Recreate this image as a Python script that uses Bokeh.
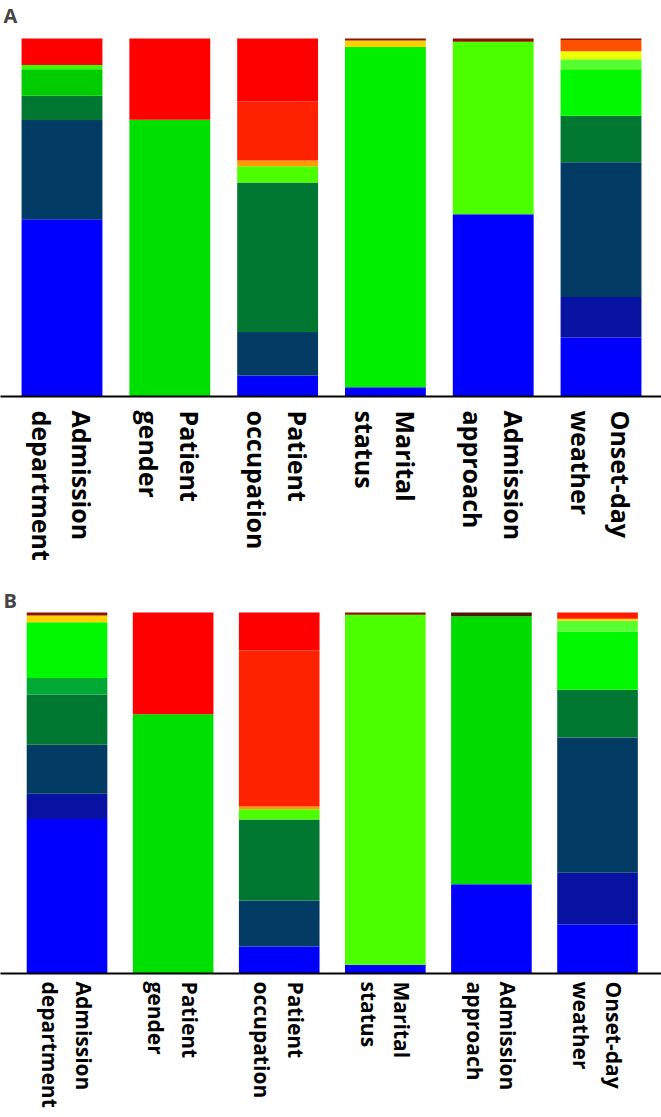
import math
from bokeh.plotting import figure
from bokeh.layouts import column
from bokeh.models import ColumnDataSource, FixedTicker, Range1d, Label
from bokeh.embed import file_html
from bokeh.resources import INLINE

categories = ["Admission\ndepartment", "Patient\ngender", "Patient\noccupation",
              "Marital\nstatus", "Admission\napproach", "Onset-day\nweather"]

# Panel A: share (%) of each level, stacked bottom -> top
a_department = [49.5, 27.7, 6.8, 7.4, 1.2, 7.4]
a_gender = [77.3, 22.7]
a_occupation = [5.9, 12.1, 41.8, 4.5, 1.6, 16.5, 17.6]
a_marital = [2.6, 95.0, 1.8, 0.6]
a_approach = [50.9, 48.2, 0.9]
a_weather = [16.5, 11.3, 37.6, 13.0, 12.8, 3.0, 2.2, 3.2, 0.4]

# Panel B: share (%) of each level, stacked bottom -> top
b_department = [42.8, 7.0, 13.6, 13.9, 4.6, 15.4, 1.9, 0.8]
b_gender = [71.8, 28.2]
b_occupation = [7.5, 12.7, 22.5, 2.8, 0.8, 43.2, 10.5]
b_marital = [2.4, 97.0, 0.6]
b_approach = [24.7, 74.3, 1.0]
b_weather = [13.6, 14.3, 37.5, 13.2, 16.1, 3.0, 0.6, 1.7]

# colours (styles)
BLUE, DBLUE, NAVY, DGREEN = "#0000ff", "#0812a0", "#023c64", "#007832"
RED, REDOR, ORRED, DRED = "#ff0000", "#ff2200", "#ff5000", "#8a1400"
LIME, ORANGE, YELLOW = "#4cff00", "#ff9a00", "#ffd000"

a_colors = [
    [BLUE, NAVY, DGREEN, "#00cc00", "#33ff00", RED],
    ["#00e000", RED],
    [BLUE, NAVY, DGREEN, LIME, ORANGE, REDOR, RED],
    [BLUE, "#00f000", YELLOW, DRED],
    [BLUE, LIME, DRED],
    [BLUE, DBLUE, NAVY, DGREEN, "#00f800", "#55ff30", "#eeff00", ORRED, DRED],
]
b_colors = [
    [BLUE, DBLUE, NAVY, DGREEN, "#00a834", "#00f800", YELLOW, DRED],
    ["#00e000", RED],
    [BLUE, NAVY, DGREEN, LIME, ORANGE, REDOR, RED],
    [BLUE, LIME, DRED],
    [BLUE, "#00dc00", "#4a1a00"],
    [BLUE, DBLUE, NAVY, DGREEN, "#00f800", "#55ff30", YELLOW, "#ff1a00"],
]


def panel(letter, series, colors, x0, x1, ytop, height, bottom_border, bar_w,
          font_px, standoff):
    xs, bots, tops, cols = [], [], [], []
    for i, (vals, cs) in enumerate(zip(series, colors)):
        acc = 0.0
        for v, c in zip(vals, cs):
            xs.append(i)
            bots.append(acc)
            acc += v
            tops.append(acc)
            cols.append(c)
    src = ColumnDataSource(dict(x=xs, bottom=bots, top=tops, color=cols))
    p = figure(width=661, height=height, x_range=Range1d(x0, x1), y_range=Range1d(0, ytop),
               output_backend="svg", toolbar_location=None,
               min_border_left=0, min_border_right=0, min_border_top=0,
               min_border_bottom=bottom_border)
    p.vbar(x="x", bottom="bottom", top="top", width=bar_w, fill_color="color",
           line_color=None, source=src)
    p.yaxis.visible = False
    p.grid.visible = False
    p.outline_line_color = None
    p.background_fill_color = "white"
    ax = p.xaxis[0]
    ax.ticker = FixedTicker(ticks=list(range(len(categories))))
    ax.major_label_overrides = {i: c for i, c in enumerate(categories)}
    ax.major_label_orientation = -math.pi / 2
    ax.major_tick_line_color = None
    ax.minor_tick_line_color = None
    ax.axis_line_color = "black"
    ax.axis_line_width = 2
    ax.major_label_text_font = "Open Sans"
    ax.major_label_text_font_style = "bold"
    ax.major_label_text_font_size = f"{font_px}px"
    ax.major_label_text_color = "black"
    ax.major_label_standoff = standoff
    p.add_layout(Label(x=x0, y=ytop, x_offset=3, y_offset=-1, text=letter,
                       text_font="Open Sans", text_font_style="bold",
                       text_font_size="20px", text_baseline="top", text_align="left"))
    return p


pa = panel("A", [a_department, a_gender, a_occupation, a_marital, a_approach, a_weather],
           a_colors, -0.5705, 5.561, 110.6, 585, 189, 0.75, 25, 8)
pb = panel("B", [b_department, b_gender, b_occupation, b_marital, b_approach, b_weather],
           b_colors, -0.627, 5.603, 107.5, 532, 144, 0.76, 21, 2)

layout = column(pa, pb, spacing=0)
open("out.html", "w").write(file_html(layout, INLINE))
